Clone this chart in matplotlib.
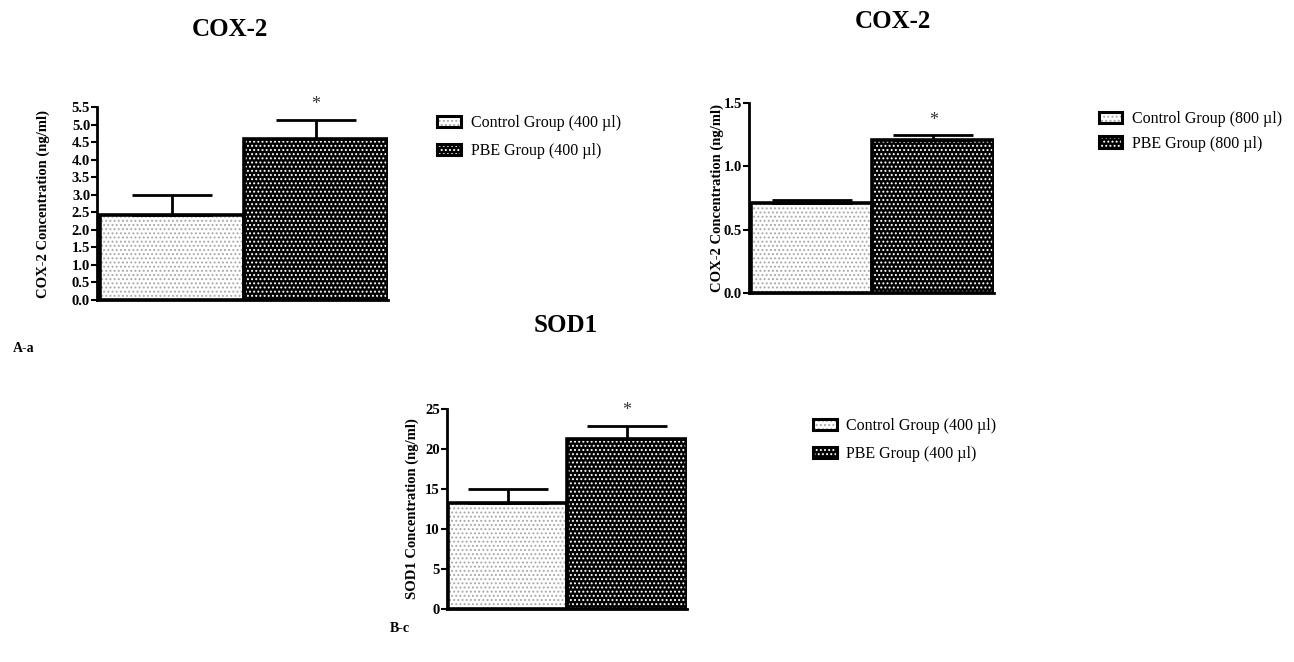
import matplotlib
matplotlib.use("Agg")
import matplotlib.pyplot as plt
from matplotlib.patches import Patch
from matplotlib.legend_handler import HandlerTuple
import numpy as np

plt.rcParams['font.family'] = ['Liberation Serif', 'DejaVu Serif']
plt.rcParams['hatch.linewidth'] = 0.9

# data
groups = ["Control Group", "PBE Group"]

cox2_400_mean = [2.42, 4.58]
cox2_400_err = [0.58, 0.55]

cox2_800_mean = [0.713, 1.206]
cox2_800_err = [0.025, 0.037]

sod1_400_mean = [13.2, 21.25]
sod1_400_err = [1.8, 1.65]

fills = [dict(facecolor='white', edgecolor='#a8a8a8', hatch='....'),
         dict(facecolor='black', edgecolor='white', hatch='....')]


def panel(rect, mean, err, ylim, yticks, ylabel, dose, leg_anchor, leg_space, xpad, lpad):
    ax = fig.add_axes(rect)
    x = np.arange(len(mean))
    for i in range(len(mean)):
        ax.bar(x[i], mean[i], width=1.0, linewidth=0, zorder=1, **fills[i])
    ax.bar(x, mean, width=1.0, fill=False, edgecolor='black', linewidth=2.6, zorder=2)
    ax.errorbar(x, mean, yerr=[np.zeros(len(err)), err], fmt='none', ecolor='black',
                elinewidth=2, capsize=29, capthick=2, zorder=3)
    top = np.array(mean) + np.array(err)
    ax.text(x[1], top[1] + (ylim[1] - ylim[0]) * 0.035, '*', ha='center', va='bottom',
            fontsize=13, color='#333333')
    ax.set_xlim(-0.5 - xpad, 1.5)
    ax.set_ylim(*ylim)
    ax.set_yticks(yticks)
    ax.set_yticklabels(yticks, fontweight='bold', fontsize=10.5)
    ax.set_xticks([])
    for s in ['top', 'right']:
        ax.spines[s].set_visible(False)
    for s in ['left', 'bottom']:
        ax.spines[s].set_linewidth(2)
    ax.tick_params(axis='y', length=4, width=1.5, pad=1)
    ax.set_ylabel(ylabel, fontweight='bold', fontsize=10.5, labelpad=lpad)
    handles = []
    for i in range(len(mean)):
        handles.append((Patch(linewidth=0, **fills[i]),
                        Patch(fill=False, edgecolor='black', linewidth=2.2)))
    labels = [g + " (" + dose + " \u00b5l)" for g in groups]
    fig.legend(handles, labels, handler_map={tuple: HandlerTuple(ndivide=1, pad=0)},
               loc='upper left', bbox_to_anchor=leg_anchor, frameon=False,
               fontsize=11.5, handlelength=1.5, handleheight=0.75,
               labelspacing=leg_space, handletextpad=0.6, borderaxespad=0)
    return ax


fig = plt.figure(figsize=(12.94, 6.62), dpi=100)

panel([0.075, 0.5468, 0.2249, 0.2915], cox2_400_mean, cox2_400_err, (0, 5.5),
      [0.0, 0.5, 1.0, 1.5, 2.0, 2.5, 3.0, 3.5, 4.0, 4.5, 5.0, 5.5],
      "COX-2 Concentration (ng/ml)", "400", (0.333, 0.836), 0.75, 0.02, 16)
panel([0.5788, 0.5569, 0.1893, 0.2879], cox2_800_mean, cox2_800_err, (0, 1.5),
      [0.0, 0.5, 1.0, 1.5],
      "COX-2 Concentration (ng/ml)", "800", (0.844, 0.842), 0.55, 0.015, 0)
panel([0.3452, 0.0801, 0.1855, 0.3021], sod1_400_mean, sod1_400_err, (0, 25),
      [0, 5, 10, 15, 20, 25],
      "SOD1 Concentration (ng/ml)", "400", (0.623, 0.378), 0.75, 0.01, 4)

fig.text(230 / 1294, 1 - 30 / 662, "COX-2", ha='center', va='center', fontsize=18, fontweight='bold')
fig.text(893 / 1294, 1 - 22 / 662, "COX-2", ha='center', va='center', fontsize=18, fontweight='bold')
fig.text(566 / 1294, 1 - 325 / 662, "SOD1", ha='center', va='center', fontsize=18, fontweight='bold')
fig.text(13 / 1294, 1 - 349 / 662, "A-a", ha='left', va='center', fontsize=10, fontweight='bold')
fig.text(390 / 1294, 1 - 628 / 662, "B-c", ha='left', va='center', fontsize=10, fontweight='bold')

fig.savefig("out.png", dpi=100)
